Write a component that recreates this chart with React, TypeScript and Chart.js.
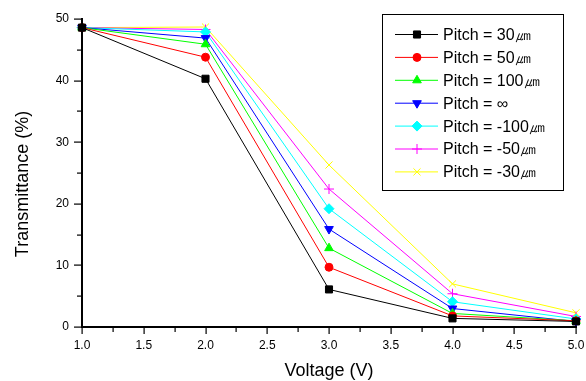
import React, { useEffect, useRef } from 'react';
import { Chart, registerables } from 'chart.js';
import { drawPoint } from 'chart.js/helpers';

Chart.register(...registerables);

const voltages = [1, 2, 3, 4, 5];
const pitch30 = [48.6, 40.3, 6.1, 1.4, 0.9];
const pitch50 = [48.6, 43.8, 9.7, 1.8, 1.0];
const pitch100 = [48.6, 45.9, 12.8, 2.2, 1.0];
const pitchInf = [48.6, 46.9, 15.9, 3.0, 0.9];
const pitchM100 = [48.6, 47.9, 19.2, 4.1, 1.3];
const pitchM50 = [48.6, 48.3, 22.4, 5.4, 1.7];
const pitchM30 = [48.6, 48.7, 26.3, 7.0, 2.3];

const seriesLabels = [
  'Pitch = 30\u339B',
  'Pitch = 50\u339B',
  'Pitch = 100\u339B',
  'Pitch = \u221E',
  'Pitch = -100\u339B',
  'Pitch = -50\u339B',
  'Pitch = -30\u339B',
];
const seriesValues = [pitch30, pitch50, pitch100, pitchInf, pitchM100, pitchM50, pitchM30];
const seriesColors = ['#000000', '#ff0000', '#00ff00', '#0000ff', '#00ffff', '#ff00ff', '#ffff00'];
const seriesStyles = ['rect', 'circle', 'triangle', 'triangle', 'rectRot', 'cross', 'crossRot'];
const seriesRotation = [0, 0, 0, 180, 0, 0, 0];
const seriesRadius = [5, 4, 5, 5, 5, 5, 5];

const xTicks = [1.0, 1.5, 2.0, 2.5, 3.0, 3.5, 4.0, 4.5, 5.0];
const xMinorTicks = [1.25, 1.75, 2.25, 2.75, 3.25, 3.75, 4.25, 4.75];
const yTicks = [0, 10, 20, 30, 40, 50];
const yMinorTicks = [5, 15, 25, 35, 45];
const xTitle = 'Voltage (V)';
const yTitle = 'Transmittance (%)';

const FONT = "'Liberation Sans', Arial, Helvetica, sans-serif";

const decorPlugin = {
  id: 'decor',
  afterDraw(chart: any) {
    const ctx = chart.ctx;
    const xs = chart.scales.x;
    const ys = chart.scales.y;
    const area = chart.chartArea;
    const L = Math.round(area.left);
    const B = Math.round(area.bottom);
    const T = Math.round(area.top);
    const R = Math.round(area.right);
    ctx.save();
    ctx.fillStyle = '#000';
    // axis lines
    ctx.fillRect(L - 1, T - 1, 2, B - T + 2);
    ctx.fillRect(L - 1, B - 1, R - L + 2, 2);
    // x ticks
    xTicks.forEach((v) => {
      const px = Math.round(xs.getPixelForValue(v));
      ctx.fillRect(px - 0.5, B + 1, 1.2, 6);
    });
    xMinorTicks.forEach((v) => {
      const px = Math.round(xs.getPixelForValue(v));
      ctx.fillRect(px - 0.5, B + 1, 1.2, 4);
    });
    // y ticks
    yTicks.forEach((v) => {
      const py = Math.round(ys.getPixelForValue(v));
      ctx.fillRect(L - 8, py - 0.5, 7, 1.2);
    });
    yMinorTicks.forEach((v) => {
      const py = Math.round(ys.getPixelForValue(v));
      ctx.fillRect(L - 5, py - 0.5, 4, 1.2);
    });
    // tick labels
    ctx.font = `12px ${FONT}`;
    ctx.textBaseline = 'middle';
    ctx.textAlign = 'center';
    xTicks.forEach((v) => {
      ctx.fillText(v.toFixed(1), xs.getPixelForValue(v), B + 19);
    });
    ctx.textAlign = 'right';
    yTicks.forEach((v) => {
      ctx.fillText(String(v), L - 13, ys.getPixelForValue(v));
    });
    // titles
    ctx.font = `18px ${FONT}`;
    ctx.textAlign = 'center';
    ctx.textBaseline = 'middle';
    ctx.fillText(xTitle, (area.left + area.right) / 2, 371);
    ctx.save();
    ctx.translate(23, 184);
    ctx.rotate(-Math.PI / 2);
    ctx.fillText(yTitle, 0, 0);
    ctx.restore();

    // legend
    const bx = 382.5, by = 14.5, bw = 181, bh = 176;
    ctx.fillStyle = '#fff';
    ctx.fillRect(bx, by, bw, bh);
    ctx.strokeStyle = '#000';
    ctx.lineWidth = 1;
    ctx.strokeRect(bx, by, bw, bh);
    ctx.font = `16px ${FONT}`;
    ctx.textBaseline = 'middle';
    ctx.textAlign = 'left';
    chart.data.datasets.forEach((ds: any, i: number) => {
      const y = 34.5 + i * 22.9;
      ctx.strokeStyle = ds.borderColor;
      ctx.lineWidth = 1;
      ctx.beginPath();
      ctx.moveTo(395, y);
      ctx.lineTo(438, y);
      ctx.stroke();
      ctx.fillStyle = ds.pointBackgroundColor;
      ctx.strokeStyle = ds.pointBorderColor;
      drawPoint(ctx, {
        pointStyle: ds.pointStyle,
        rotation: ds.pointRotation,
        radius: ds.pointRadius,
        borderWidth: 1,
      }, 417, y);
      ctx.fillStyle = '#000';
      ctx.fillText(ds.label, 443, y + 1);
    });
    ctx.restore();
  },
};

export default function App() {
  const ref = useRef<HTMLCanvasElement>(null);
  useEffect(() => {
    document.body.style.margin = '0';
    const datasets = seriesValues.map((vals, i) => ({
      label: seriesLabels[i],
      data: vals.map((v, j) => ({ x: voltages[j], y: v })),
      borderColor: seriesColors[i],
      backgroundColor: seriesColors[i],
      pointBackgroundColor: seriesColors[i],
      pointBorderColor: seriesColors[i],
      pointStyle: seriesStyles[i],
      pointRotation: seriesRotation[i],
      pointRadius: seriesRadius[i],
      pointBorderWidth: 1,
      borderWidth: 1,
      tension: 0,
      clip: false,
    }));
    const chart = new Chart(ref.current!, {
      type: 'line',
      data: { datasets },
      plugins: [decorPlugin],
      options: {
        animation: false,
        responsive: false,
        layout: { padding: { left: 82, right: 10, top: 19, bottom: 54 } },
        plugins: { legend: { display: false }, tooltip: { enabled: false } },
        scales: {
          x: { type: 'linear', min: 1, max: 5, display: false },
          y: { type: 'linear', min: 0, max: 50, display: false },
        },
      },
    } as any);
    return () => chart.destroy();
  }, []);
  return <canvas ref={ref} width={586} height={381} style={{ display: 'block' }} />;
}
